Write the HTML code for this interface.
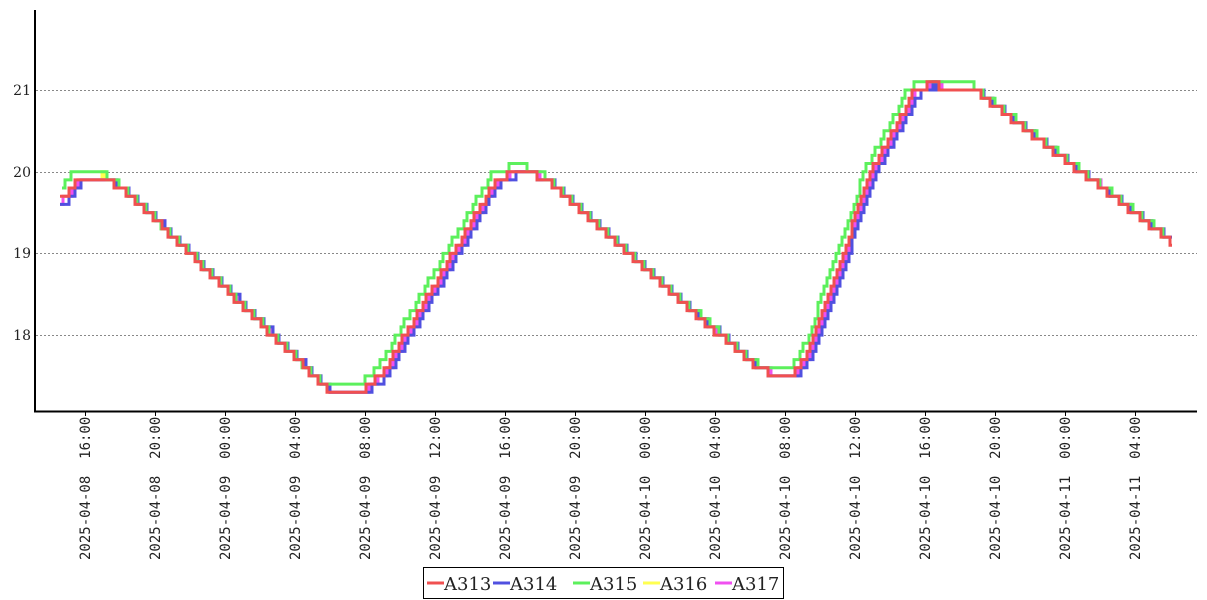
<!DOCTYPE html>
<html><head><meta charset="utf-8"><style>
html,body{margin:0;padding:0;background:#fff;}
svg{display:block;}
</style></head><body>
<svg id="c" width="1207" height="600" xmlns="http://www.w3.org/2000/svg">
<g stroke="#888" stroke-dasharray="2,2" stroke-width="1">
<line x1="36" y1="90.5" x2="1197" y2="90.5"/>
<line x1="36" y1="172.5" x2="1197" y2="172.5"/>
<line x1="36" y1="253.5" x2="1197" y2="253.5"/>
<line x1="36" y1="335.5" x2="1197" y2="335.5"/>
</g>
<g font-family="DejaVu Serif, Liberation Serif, serif" font-size="14" fill="#222" text-anchor="end">
<text x="31" y="95">21</text><text x="31" y="177">20</text><text x="31" y="258">19</text><text x="31" y="340">18</text>
</g>
<g id="series" fill="none" stroke-width="3" stroke-linejoin="miter"></g>
<line x1="35" y1="10" x2="35" y2="412" stroke="#000" stroke-width="2"/>
<line x1="34" y1="411.5" x2="1197" y2="411.5" stroke="#000" stroke-width="2"/>
<g id="xt" font-family="DejaVu Sans Mono, Liberation Mono, monospace" font-size="14" fill="#222"></g>
<rect x="423.5" y="567.5" width="360" height="31" fill="#fff" stroke="#000"/>
<g font-family="DejaVu Serif, Liberation Serif, serif" font-size="18" fill="#222">
<line x1="427" y1="583" x2="444" y2="583" stroke="#f05050" stroke-width="3"/><text x="444" y="590">A313</text>
<line x1="493" y1="583" x2="510" y2="583" stroke="#5050e0" stroke-width="3"/><text x="510" y="590">A314</text>
<line x1="573" y1="583" x2="590" y2="583" stroke="#5cf05c" stroke-width="3"/><text x="590" y="590">A315</text>
<line x1="643" y1="583" x2="660" y2="583" stroke="#ffff50" stroke-width="3"/><text x="660" y="590">A316</text>
<line x1="715" y1="583" x2="732" y2="583" stroke="#f050f0" stroke-width="3"/><text x="732" y="590">A317</text>
</g>
</svg>
<script>
var NS="http://www.w3.org/2000/svg";
var xt=document.getElementById('xt');
var labels=["2025-04-08\u00a0\u00a016:00","2025-04-08\u00a0\u00a020:00","2025-04-09\u00a0\u00a000:00","2025-04-09\u00a0\u00a004:00","2025-04-09\u00a0\u00a008:00","2025-04-09\u00a0\u00a012:00","2025-04-09\u00a0\u00a016:00","2025-04-09\u00a0\u00a020:00","2025-04-10\u00a0\u00a000:00","2025-04-10\u00a0\u00a004:00","2025-04-10\u00a0\u00a008:00","2025-04-10\u00a0\u00a012:00","2025-04-10\u00a0\u00a016:00","2025-04-10\u00a0\u00a020:00","2025-04-11\u00a0\u00a000:00","2025-04-11\u00a0\u00a004:00"];
labels.forEach(function(l,i){
 var x=85+i*70;
 var t=document.createElementNS(NS,'line');t.setAttribute('x1',x+.5);t.setAttribute('x2',x+.5);t.setAttribute('y1',412);t.setAttribute('y2',416);t.setAttribute('stroke','#000');xt.appendChild(t);
 var s=document.createElementNS(NS,'text');s.setAttribute('transform','translate('+(x+5)+',560) rotate(-90)');s.textContent=l;xt.appendChild(s);
});
var K=[[50,19.5],[75,19.88],[100,19.95],[130,19.7],[325,17.35],[345,17.28],[365,17.35],[380,17.5],[495,19.9],[520,20.02],[545,19.9],[755,17.6],[780,17.48],[795,17.55],[810,17.85],[870,20.0],[912,20.95],[928,21.08],[945,21.02],[975,20.98],[1180,19.05]];
function base(x){
 for(var i=0;i<K.length-1;i++){if(x<=K[i+1][0]){var a=K[i],b=K[i+1];var t=(x-a[0])/(b[0]-a[0]);return a[1]+(b[1]-a[1])*t;}}
 return K[K.length-1][1];
}
function Y(v){return 90+(21-v)*81.7;}
function series(color,dx,bias,x0,x1){
 var d="",prev=null;
 for(var x=x0;x<=x1;x+=3){
  var v=Math.round((base(x-dx)+bias)*10)/10;
  var y=Y(v).toFixed(1);
  if(prev===null){d="M"+x+" "+y;}else if(y!==prev){d+=" H"+x+" V"+y;}
  prev=y;
 }
 d+=" H"+x1;
 var p=document.createElementNS(NS,'path');p.setAttribute('d',d);p.setAttribute('stroke',color);
 document.getElementById('series').appendChild(p);
}
series("#ffff50",2,0.0,60,1170);
series("#f050f0",3,0.0,60,1170);
series("#5050e0",5,-0.02,60,1172);
series("#5cf05c",-4,0.07,62,1168);
series("#f05050",0,0.0,60,1172);
</script>
</body></html>
